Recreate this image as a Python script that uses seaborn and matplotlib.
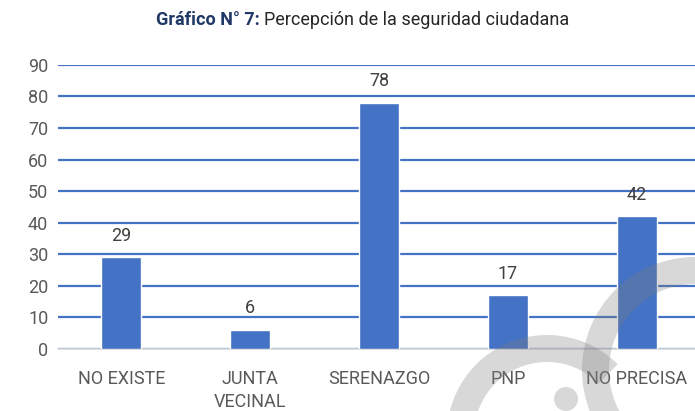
import matplotlib
matplotlib.use("Agg")
import matplotlib.pyplot as plt
from matplotlib.patches import Wedge, Circle
import seaborn as sns
import pandas as pd

# Data
categories = ["NO EXISTE", "JUNTA\nVECINAL", "SERENAZGO", "PNP", "NO PRECISA"]
values = [29, 6, 78, 17, 42]
yticks = [0, 10, 20, 30, 40, 50, 60, 70, 80, 90]

df = pd.DataFrame({"cat": categories, "val": values})

sns.set_style("white")
plt.rcParams["font.family"] = ["Liberation Sans Narrow", "Roboto", "DejaVu Sans"]

bar_color = "#4472C4"
text_gray = "#595959"

fig = plt.figure(figsize=(6.95, 4.11), dpi=100)
ax = fig.add_axes([0.0835, 0.151, 0.9165, 0.691])

sns.barplot(data=df, x="cat", y="val", color=bar_color, width=0.31,
            saturation=1, ax=ax, zorder=3)

ax.set_ylim(0, 90)
ax.set_xlim(-0.49, 4.45)
ax.set_yticks(yticks)
ax.yaxis.grid(True, color=bar_color, linewidth=1.6, zorder=0)
ax.set_axisbelow(True)
for s in ["top", "right", "left"]:
    ax.spines[s].set_visible(False)
ax.spines["bottom"].set_color("#D9D9D9")
ax.spines["bottom"].set_linewidth(1.2)
ax.tick_params(axis="both", length=0, labelsize=13, colors=text_gray, pad=7)
ax.tick_params(axis="x", pad=15)
ax.set_xlabel("")
ax.set_ylabel("")
for lbl in ax.get_xticklabels():
    lbl.set_linespacing(1.35)

for i, v in enumerate(values):
    ax.text(i, v + 4, str(v), ha="center", va="bottom", fontsize=13, color="#404040")

# title: bold prefix + regular text
t1 = fig.text(0.225, 0.951, "Gráfico N° 7:", fontsize=13, fontweight="bold",
              color="#1F3864", ha="left", va="center")
fig.canvas.draw()
bb = t1.get_window_extent()
x2 = bb.x1 / fig.bbox.width + 0.006
fig.text(x2, 0.951, "Percepción de la seguridad ciudadana", fontsize=13,
         color="#262626", ha="left", va="center")

# faint watermark (drawn as shapes, in inches from bottom-left)
wm = dict(color="#7F7F7F", alpha=0.3, linewidth=0, zorder=10,
          transform=fig.dpi_scale_trans)
fig.add_artist(Wedge((6.95, 0.41), 1.13, 0, 360, width=0.27, **wm))
fig.add_artist(Wedge((5.47, -0.24), 1.0, 45, 215, width=0.27, **wm))
fig.add_artist(Circle((5.66, 0.12), 0.12, **wm))

fig.savefig("out.png", dpi=100)
